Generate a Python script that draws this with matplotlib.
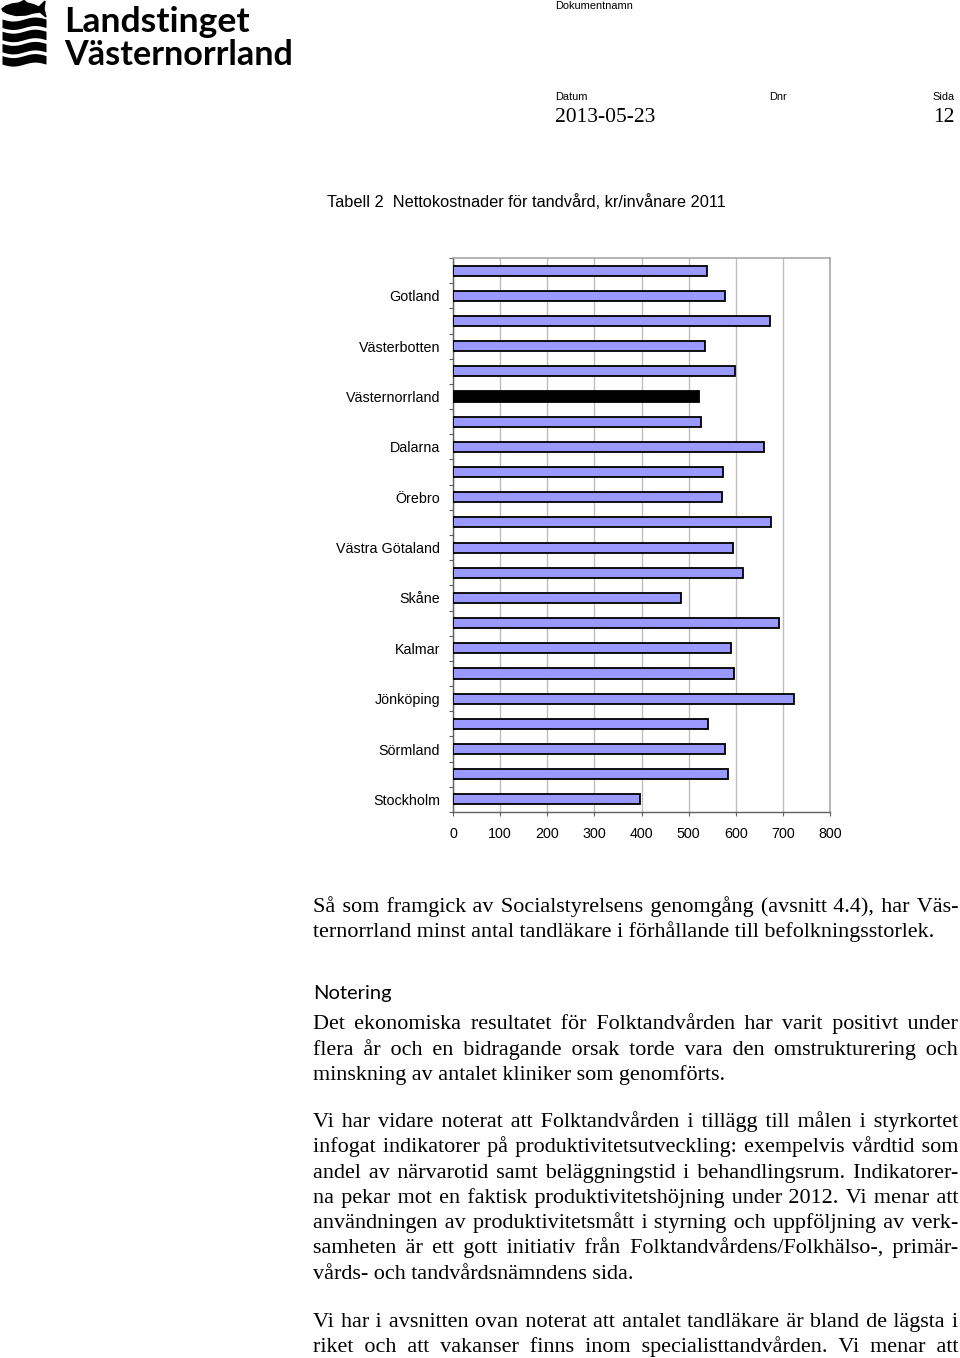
import itertools
import numpy as np
import matplotlib
matplotlib.use("Agg")
import matplotlib.pyplot as plt
from matplotlib.transforms import IdentityTransform
from matplotlib.patches import Polygon

# ---------------- data ----------------
regions = ["Stockholm", "Uppsala", "Sörmland", "Östergötland", "Jönköping",
           "Kronoberg", "Kalmar", "Blekinge", "Skåne", "Halland",
           "Västra Götaland", "Värmland", "Örebro", "Västmanland", "Dalarna",
           "Gävleborg", "Västernorrland", "Jämtland", "Västerbotten",
           "Norrbotten", "Gotland", "Riket"]
costs = [396, 584, 577, 541, 724,
         596, 589, 692, 483, 615,
         595, 674, 571, 572, 661,
         526, 521, 598, 534,
         673, 577, 538]
highlight = "Västernorrland"
x_ticks = [0, 100, 200, 300, 400, 500, 600, 700, 800]

caption = "Tabell 2  Nettokostnader för tandvård, kr/invånare 2011"
para1 = ["Så som framgick av Socialstyrelsens genomgång (avsnitt 4.4), har Väs-",
         "ternorrland minst antal tandläkare i förhållande till befolkningsstorlek."]
heading = "Notering"
para2 = ["Det ekonomiska resultatet för Folktandvården har varit positivt under",
         "flera år och en bidragande orsak torde vara den omstrukturering och",
         "minskning av antalet kliniker som genomförts."]
para3 = ["Vi har vidare noterat att Folktandvården i tillägg till målen i styrkortet",
         "infogat indikatorer på produktivitetsutveckling: exempelvis vårdtid som",
         "andel av närvarotid samt beläggningstid i behandlingsrum. Indikatorer-",
         "na pekar mot en faktisk produktivitetshöjning under 2012. Vi menar att",
         "användningen av produktivitetsmått i styrning och uppföljning av verk-",
         "samheten är ett gott initiativ från Folktandvårdens/Folkhälso-, primär-",
         "vårds- och tandvårdsnämndens sida."]
para4 = ["Vi har i avsnitten ovan noterat att antalet tandläkare är bland de lägsta i",
         "riket och att vakanser finns inom specialisttandvården. Vi menar att"]

# ---------------- figure ----------------
W, H = 960, 1358
fig = plt.figure(figsize=(W / 100, H / 100), dpi=100)
fig.patch.set_facecolor("white")
renderer = fig.canvas.get_renderer()
ID = IdentityTransform()

SANS = "Liberation Sans"
SERIF = ["Liberation Serif", "DejaVu Serif", "DejaVu Sans"]


def ptext(x, y, s, **kw):
    """Place text at pixel coords (origin top-left)."""
    return fig.text(x, H - y, s, transform=ID, **kw)


def width_of(s, **kw):
    t = ptext(0, 0, s, **kw)
    w = t.get_window_extent(renderer).width
    t.remove()
    return w


SPACES = [" ", "\u2009", "\u200A", "\u2006", "\u2005", "\u2004", "\u2002"]


def justified(lines, x0, x1, y0, step, justify_last=False, **kw):
    base = width_of("xx", **kw)
    sw = {c: width_of("x" + c + "x", **kw) - base for c in SPACES}
    combos = []
    for n in (1, 2, 3):
        for combo in itertools.combinations_with_replacement(SPACES, n):
            combos.append(("".join(combo), sum(sw[c] for c in combo)))
    for i, line in enumerate(lines):
        y = y0 + i * step
        last = (i == len(lines) - 1) and not justify_last
        if last:
            ptext(x0, y, line, va="baseline", ha="left", **kw)
            continue
        words = line.split(" ")
        w0 = width_of(line, **kw)
        ngap = len(words) - 1
        target = sw[" "] + (x1 - x0 - w0) / ngap
        out = words[0]
        err = 0.0
        for w in words[1:]:
            want = target + err
            s, ws = min(combos, key=lambda c: abs(c[1] - want))
            err = want - ws
            out += s + w
        ptext(x0, y, out, va="baseline", ha="left", **kw)


# ---- logo ----
lax = fig.add_axes([0, 1 - 68 / H, 48 / W, 68 / H])
lax.set_xlim(0, 48)
lax.set_ylim(68, 0)
lax.axis("off")
fish = [(2, 9), (6, 6), (12, 4), (19, 3), (24, 0.5), (27, 3), (33, 4.5),
        (39, 7), (45, 1), (44, 9), (46, 17), (40, 12), (33, 13), (26, 15),
        (16, 15.5), (8, 13.5), (3, 11)]
lax.add_patch(Polygon(fish, closed=True, color="black"))
xs = np.linspace(2, 46, 100)
for k in range(4):
    top = 19 + k * 12.2 + 2.0 * np.sin((xs - 2) / 44 * 2 * np.pi)
    lax.fill_between(xs, top, top + 8.5, color="black", lw=0)

# logo text, sized to measured width
for txt, base, target in [("Landstinget", 32, 185), ("Västernorrland", 65, 228)]:
    t = ptext(64, base, txt, fontsize=22, family="Lato", fontweight="bold",
              va="baseline")
    w = t.get_window_extent(renderer).width
    t.set_fontsize(22 * target / w)

# ---- header ----
hdr = dict(fontsize=7.9, family=SANS, va="baseline")
ptext(555, 9, "Dokumentnamn", **hdr)
ptext(555, 100, "Datum", **hdr)
ptext(769, 100, "Dnr", **hdr)
ptext(955, 100, "Sida", ha="right", **hdr)
ptext(555, 122, "2013-05-23", fontsize=15.5, family=SERIF, va="baseline")
ptext(955, 122, "12", fontsize=15.5, family=SERIF, va="baseline", ha="right")

# ---- caption ----
ptext(327, 207, caption, fontsize=11.8, family=SANS, va="baseline")

# ---- chart ----
ax = fig.add_axes([453 / W, 1 - 812 / H, 377 / W, 554 / H])
ypos = np.arange(len(regions))
colors = ["black" if r == highlight else "#9999FF" for r in regions]
ax.barh(ypos, costs, height=0.4, color=colors, edgecolor="black",
        linewidth=1.3, zorder=3)
ax.set_xlim(x_ticks[0], x_ticks[-1])
ax.set_ylim(-0.5, len(regions) - 0.5)
ax.set_xticks(x_ticks)
ax.set_xticklabels([str(v) for v in x_ticks], fontsize=10.3, family=SANS)
ax.set_yticks(ypos)
ax.set_yticklabels([r if i % 2 == 0 else "" for i, r in enumerate(regions)],
                   fontsize=10.3, family=SANS)
ax.tick_params(axis="y", which="major", length=0, pad=9.4)
ax.set_yticks(np.arange(-0.5, len(regions), 1), minor=True)
ax.tick_params(axis="y", which="minor", length=3, width=0.8, color="#606060",
               direction="out")
ax.tick_params(axis="x", length=3, width=0.8, color="#606060", pad=8)
ax.grid(axis="x", color="#bdbdbd", linewidth=1.0, zorder=0)
for side in ["top", "right"]:
    ax.spines[side].set_color("#a8a8a8")
    ax.spines[side].set_linewidth(1.2)
for side in ["left", "bottom"]:
    ax.spines[side].set_color("#606060")
    ax.spines[side].set_linewidth(1.0)
ax.set_facecolor("white")

# ---- body text ----
X0, X1 = 313, 958
STEP = 25.3
body = dict(fontsize=15.95, family=SERIF, color="black")
justified(para1, X0, X1, 912, STEP, **body)
ptext(X0, 999, heading, fontsize=14.5, family="Lato", va="baseline")
justified(para2, X0, X1, 1029.5, STEP, **body)
justified(para3, X0, X1, 1127, STEP, **body)
justified(para4, X0, X1, 1326.5, STEP, justify_last=True, **body)

fig.savefig("out.png", dpi=100, facecolor="white")
